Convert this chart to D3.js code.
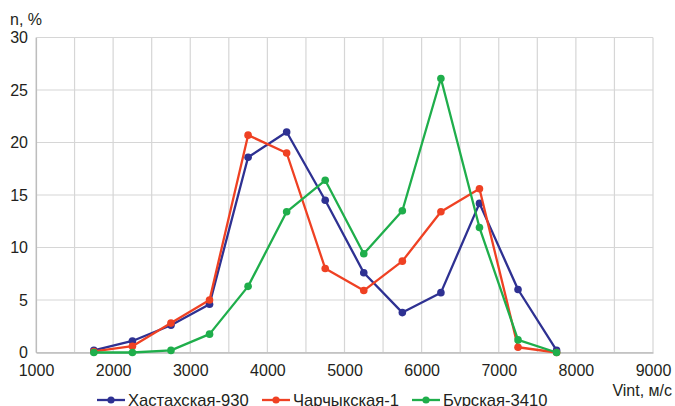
<!DOCTYPE html>
<html>
<head>
<meta charset="utf-8">
<script src="https://cdn.jsdelivr.net/npm/d3@7"></script>
<style>
  body { margin: 0; background: #fff; }
  text { font-family: "Liberation Sans", Arial, sans-serif; fill: #231f20; }
</style>
</head>
<body>
<svg id="chart"></svg>
<script>
// bin centres, m/s
var vint = [1750, 2250, 2750, 3250, 3750, 4250, 4750, 5250, 5750, 6250, 6750, 7250, 7750];

var khastakh = [0.2, 1.1, 2.6, 4.6, 18.6, 21.0, 14.5, 7.6, 3.8, 5.7, 14.2, 6.0, 0.2];
var charchyk = [0.1, 0.6, 2.8, 5.0, 20.7, 19.0, 8.0, 5.9, 8.7, 13.4, 15.6, 0.5, 0.0];
var burskaya = [0.0, 0.0, 0.2, 1.75, 6.3, 13.4, 16.4, 9.4, 13.5, 26.1, 11.9, 1.2, 0.0];

var seriesNames = ["Хастахская-930", "Чарчыкская-1", "Бурская-3410"];
var seriesColors = ["#2e3192", "#ef4123", "#1fae4b"];

var xTicks = [1000, 2000, 3000, 4000, 5000, 6000, 7000, 8000, 9000];
var yTicks = [0, 5, 10, 15, 20, 25, 30];

var W = 675, H = 406;
var margin = { top: 37.5, right: 22, bottom: 53.5, left: 36 };
var width = W - margin.left - margin.right,
    height = H - margin.top - margin.bottom;

var svg = d3.select("#chart")
    .attr("width", W)
    .attr("height", H);

var g = svg.append("g")
    .attr("transform", "translate(" + margin.left + "," + margin.top + ")");

var x = d3.scaleLinear().domain([1000, 9000]).range([0, width]);
var y = d3.scaleLinear().domain([0, 30]).range([height, 0]);

// grid: vertical every 500, horizontal every 5
g.append("g").selectAll("line")
    .data(d3.range(1000, 9001, 500))
    .enter().append("line")
    .attr("x1", function (d) { return x(d); })
    .attr("x2", function (d) { return x(d); })
    .attr("y1", 0)
    .attr("y2", height)
    .attr("stroke", "#d6d6d6")
    .attr("stroke-width", 1.2);

g.append("g").selectAll("line")
    .data(yTicks)
    .enter().append("line")
    .attr("x1", 0)
    .attr("x2", width)
    .attr("y1", function (d) { return y(d); })
    .attr("y2", function (d) { return y(d); })
    .attr("stroke", "#d6d6d6")
    .attr("stroke-width", 1.2);

// axes
var xAxis = g.append("g")
    .attr("transform", "translate(0," + height + ")")
    .call(d3.axisBottom(x).tickValues(xTicks).tickSize(0).tickPadding(12).tickFormat(d3.format("d")));
xAxis.select(".domain").attr("stroke", "#bdbdbd").attr("stroke-width", 1.5);
xAxis.selectAll("text").style("font-size", "16px").attr("fill", "#231f20");

var yAxis = g.append("g")
    .call(d3.axisLeft(y).tickValues(yTicks).tickSize(0).tickPadding(8));
yAxis.select(".domain").attr("stroke", "#bdbdbd").attr("stroke-width", 1.2);
yAxis.selectAll("text").style("font-size", "16px").attr("fill", "#231f20");

svg.append("text")
    .attr("x", 10)
    .attr("y", 25)
    .style("font-size", "16px")
    .text("n, %");

svg.append("text")
    .attr("x", 672)
    .attr("y", 396)
    .attr("text-anchor", "end")
    .style("font-size", "16px")
    .text("Vint, м/с");

// series
var allSeries = [khastakh, charchyk, burskaya];

var line = d3.line()
    .x(function (d, i) { return x(vint[i]); })
    .y(function (d) { return y(d); });

allSeries.forEach(function (vals, k) {
    var s = g.append("g");
    s.append("path")
        .datum(vals)
        .attr("fill", "none")
        .attr("stroke", seriesColors[k])
        .attr("stroke-width", 2.3)
        .attr("stroke-linejoin", "round")
        .attr("d", line);
    s.selectAll("circle")
        .data(vals)
        .enter().append("circle")
        .attr("cx", function (d, i) { return x(vint[i]); })
        .attr("cy", function (d) { return y(d); })
        .attr("r", 3.8)
        .attr("fill", seriesColors[k]);
});

// legend
var legendX = [97, 262, 412];
var legend = svg.append("g");
seriesNames.forEach(function (name, k) {
    var lg = legend.append("g").attr("transform", "translate(" + legendX[k] + ",400)");
    lg.append("line")
        .attr("x1", 0).attr("x2", 28)
        .attr("stroke", seriesColors[k])
        .attr("stroke-width", 2.3);
    lg.append("circle")
        .attr("cx", 14).attr("r", 3.6)
        .attr("fill", seriesColors[k]);
    lg.append("text")
        .attr("x", 31)
        .attr("y", 5.5)
        .style("font-size", "16.6px")
        .text(name);
});
</script>
</body>
</html>
